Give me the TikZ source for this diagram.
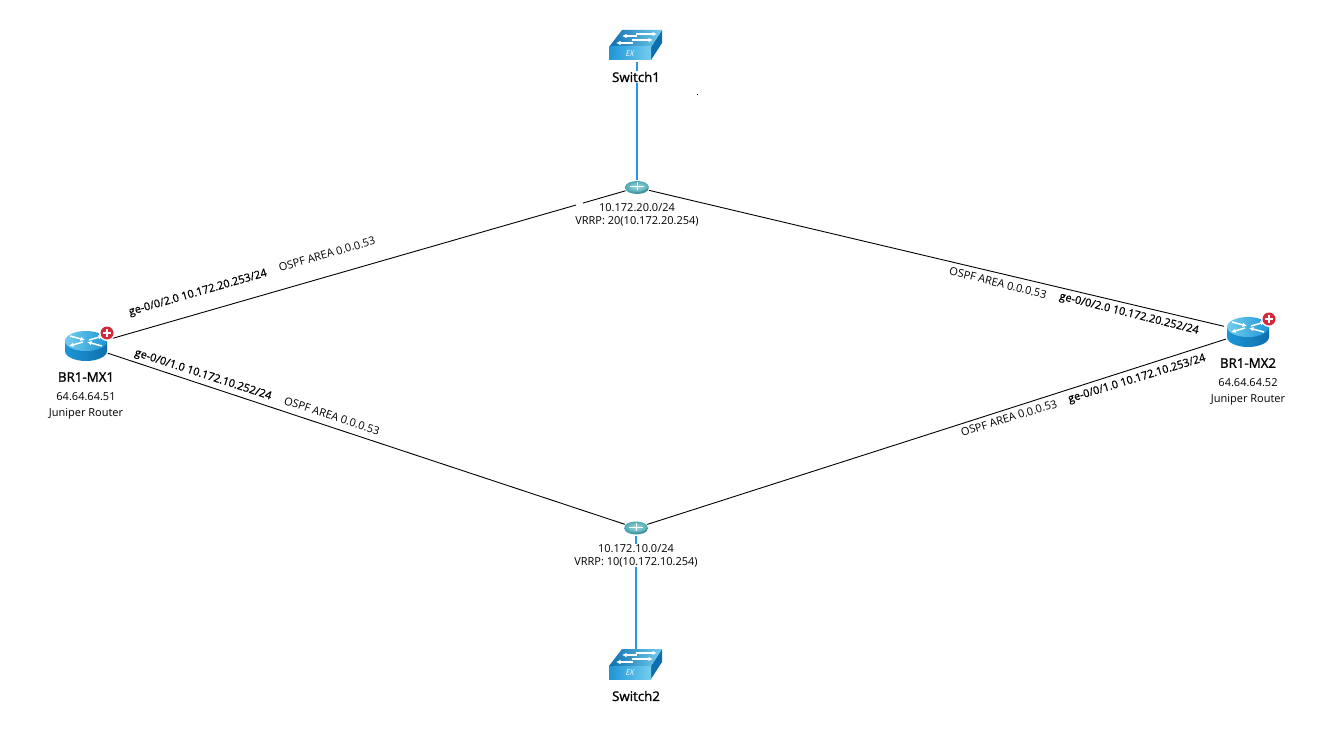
\documentclass[tikz,border=0pt]{standalone}
\usepackage{fontspec}
\setmainfont{Open Sans}
\newfontfamily\semifont[FakeBold=0.7]{Open Sans}
\newfontfamily\namefont[FakeBold=1.3]{Open Sans}
\usetikzlibrary{positioning,arrows.meta,shapes.geometric}
\definecolor{iconblue}{HTML}{1E96D6}
\definecolor{icondark}{HTML}{0F6FAE}
\definecolor{iconlight}{HTML}{74CDEE}
\definecolor{hubteal}{HTML}{4FA9B5}
\definecolor{hublight}{HTML}{A5DBDF}
\definecolor{linkblue}{HTML}{2A95E6}
\definecolor{badgered}{HTML}{D3293A}
\tikzstyle{hostname} = [font=\fontsize{13.3}{15}\namefont,inner sep=1pt]
\tikzstyle{hostinfo} = [font=\fontsize{11}{16}\selectfont,align=center,inner sep=0pt]
\tikzstyle{linklabel} = [font=\fontsize{11}{13}\selectfont,inner sep=0pt]
\tikzstyle{portlabel} = [font=\fontsize{11}{13}\semifont,inner sep=0pt]
\tikzstyle{routerspot} = [ellipse,minimum width=54pt,minimum height=24pt,inner sep=0pt]
\tikzstyle{hubspot} = [ellipse,minimum width=25pt,minimum height=15pt,inner sep=0pt]
\tikzstyle{switchspot} = [rectangle,minimum width=54pt,minimum height=32pt,inner sep=0pt]
\tikzstyle{lan} = [black,line width=0.9pt]
\tikzstyle{uplink} = [linkblue,line width=1.4pt]
\tikzstyle{marker} = [white,line width=1.5pt,-{Latex[length=4.5pt,width=4.5pt]}]
\tikzset{
  router/.pic={
    \shade[left color=iconblue,right color=icondark] (-21,-5) -- (-21,5) arc[start angle=180,end angle=360,x radius=21pt,y radius=10pt] -- (21,-5) -- cycle;
    \shade[left color=iconlight,right color=iconblue] (0,-5) ellipse[x radius=21pt,y radius=10pt];
    \draw[marker] (-16,-10) -- (-1,-6);
    \draw[marker] (-3,-4) -- (-17,0);
    \draw[marker] (16,0) -- (1,-4);
    \draw[marker] (3,-6) -- (17,-10);
  },
  badge/.pic={
    \fill[white] (0,0) circle (8pt);
    \fill[badgered] (0,0) circle (6.5pt);
    \fill[white] (-4,-1.3) rectangle (4,1.3);
    \fill[white] (-1.3,-4) rectangle (1.3,4);
  },
  hub/.pic={
    \shade[left color=hubteal,right color=hubteal!80!black] (-11.5,-1) -- (-11.5,1) arc[start angle=180,end angle=360,x radius=11.5pt,y radius=5.5pt] -- (11.5,-1) -- cycle;
    \shade[inner color=hublight,outer color=hubteal] (0,-1) ellipse[x radius=11.5pt,y radius=5.5pt];
    \draw[white,line width=0.7pt] (-7,-1) -- (7,-1) (0,-5) -- (0,3);
  },
  switchbox/.pic={
    \fill[icondark] (16,1) -- (27,-16) -- (27,-3) -- (16,14) -- cycle;
    \shade[left color=icondark,right color=iconlight] (-13,-16) -- (27,-16) -- (16,1) -- (-26,1) -- cycle;
    \shade[left color=iconblue,right color=iconlight] (-26,1) rectangle (16,14);
    \draw[marker] (1,-12) -- (22,-12);
    \draw[marker] (2,-10) -- (-13,-10);
    \draw[marker] (-3,-6) -- (18,-6);
    \draw[marker] (-2,-3) -- (-19,-3);
    \node[white,inner sep=0pt,font=\fontsize{8}{8}\selectfont\itshape] at (-5,8) {EX};
  }
}
\begin{document}
\begin{tikzpicture}[x=1pt,y=-1pt,node distance=1.5cm,on grid]
    \useasboundingbox[fill=white] (0,0) rectangle (1333,735);
    \node[routerspot](mx_1) at (86,346){};
    \node[routerspot](mx_2) at (1248,332){};
    \node[hubspot](hub_1) at (637,187.5){};
    \node[hubspot](hub_2) at (636,528){};
    \node[switchspot](sw_1) at (637,46){};
    \node[switchspot](sw_2) at (636,665){};
    \draw[lan] (mx_1) -- (hub_1);
    \draw[lan] (mx_1) -- (hub_2);
    \draw[lan] (mx_2) -- (hub_1);
    \draw[lan] (mx_2) -- (hub_2);
    \draw[uplink] (sw_1) -- (hub_1);
    \draw[uplink] (sw_2) -- (hub_2);
    \fill[white] (576,200) rectangle (583,206);
    \fill[black] (697,94.5) rectangle (698,95.5);
    \pic at (mx_1) {router};
    \pic at (mx_2) {router};
    \pic at (107,333) {badge};
    \pic at (1269,319) {badge};
    \pic at (hub_1) {hub};
    \pic at (hub_2) {hub};
    \pic at (635,46) {switchbox};
    \pic at (635,665) {switchbox};
    \node[hostname,fill=white][below=31pt of sw_1,xshift=-1pt](sw_1_name){Switch1};
    \node[hostname,fill=white][below=31pt of sw_2](sw_2_name){Switch2};
    \node[hostname][below=31pt of mx_1](mx_1_name){BR1-MX1};
    \node[hostname][below=31pt of mx_2](mx_2_name){BR1-MX2};
    \node[hostinfo][below=29pt of mx_1_name](mx_1_info){64.64.64.51\\Juniper Router};
    \node[hostinfo][below=29pt of mx_2_name](mx_2_info){64.64.64.52\\Juniper Router};
    \node[linklabel,align=center][below=27.5pt of hub_1](hub_1_info){10.172.20.0/24\\VRRP: 20(10.172.20.254)};
    \node[linklabel,align=center,fill=white][below=27.5pt of hub_2](hub_2_info){10.172.10.0/24\\VRRP: 10(10.172.10.254)};
    \node[portlabel,rotate=16] (port_1) at (198,293) {ge-0/0/2.0 10.172.20.253/24};
    \node[linklabel,rotate=16] (ospf_1) at (327,254) {OSPF AREA 0.0.0.53};
    \node[portlabel,rotate=-18] (port_2) at (203,375) {ge-0/0/1.0 10.172.10.252/24};
    \node[linklabel,rotate=-18] (ospf_2) at (332,416) {OSPF AREA 0.0.0.53};
    \node[linklabel,rotate=-14] (ospf_3) at (998,283) {OSPF AREA 0.0.0.53};
    \node[portlabel,rotate=-14] (port_3) at (1129,314) {ge-0/0/2.0 10.172.20.252/24};
    \node[linklabel,rotate=17] (ospf_4) at (1009,418) {OSPF AREA 0.0.0.53};
    \node[portlabel,rotate=17] (port_4) at (1137,379) {ge-0/0/1.0 10.172.10.253/24};
\end{tikzpicture}
\end{document}
